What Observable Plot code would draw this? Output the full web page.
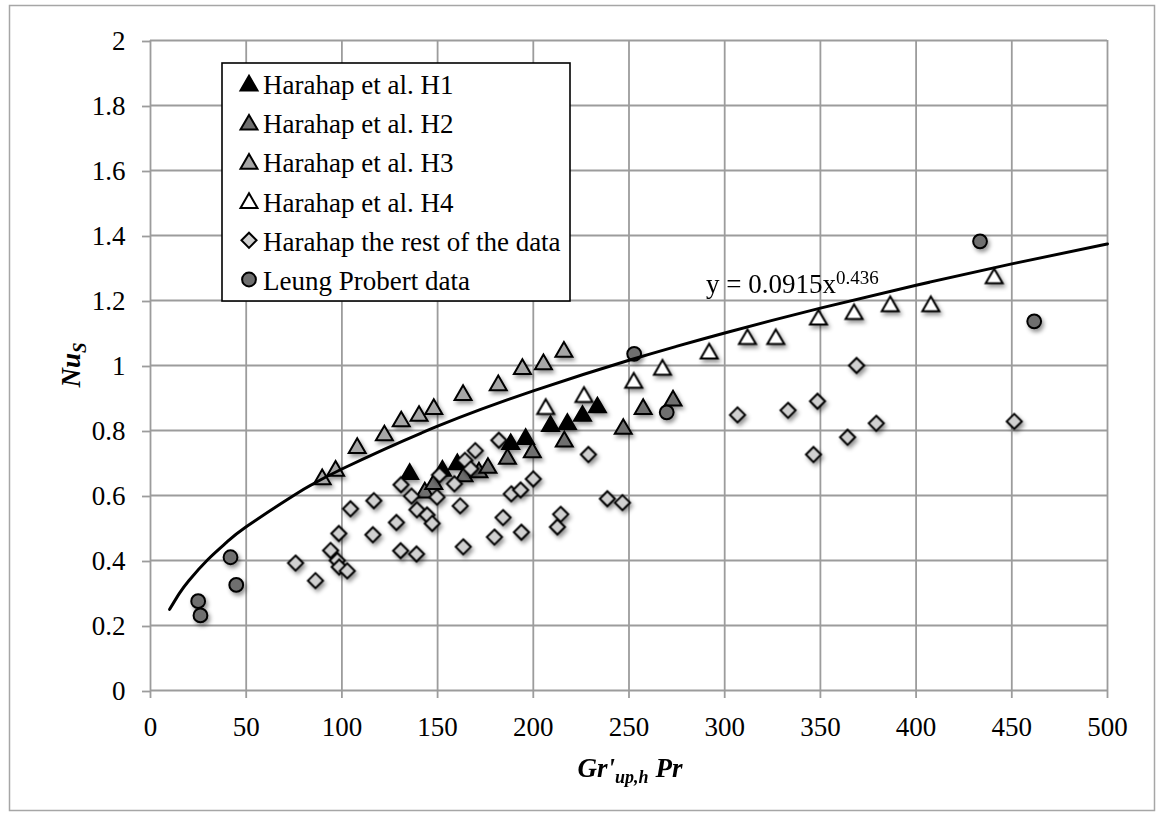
<!DOCTYPE html>
<html>
<head>
<meta charset="utf-8">
<script src="https://cdn.jsdelivr.net/npm/d3@7"></script>
<script src="https://cdn.jsdelivr.net/npm/@observablehq/plot@0.6"></script>
<style>
  html, body { margin: 0; padding: 0; background: #fff; }
  #chart svg { display: block; }
  #chart g[aria-label="dot"] { filter: drop-shadow(2px 3px 2px rgba(0,0,0,0.42)); }
</style>
</head>
<body>
<div id="chart"></div>
<script>
// ---------- data ----------
const xTicks = [0, 50, 100, 150, 200, 250, 300, 350, 400, 450, 500];
const yTicks = [0, 0.2, 0.4, 0.6, 0.8, 1, 1.2, 1.4, 1.6, 1.8, 2];

const seriesNames = [
  "Harahap et al. H1",
  "Harahap et al. H2",
  "Harahap et al. H3",
  "Harahap et al. H4",
  "Harahap the rest of the data",
  "Leung Probert data"
];

const h1X = [135.4, 152.5, 160.3, 188.2, 196.0, 209.0, 217.8, 225.7, 233.5];
const h1Y = [0.672, 0.682, 0.702, 0.764, 0.780, 0.820, 0.826, 0.851, 0.877];

const h2X = [143.3, 148.0, 163.8, 171.6, 176.3, 186.5, 199.5, 216.2, 247.0, 257.4, 273.0];
const h2Y = [0.615, 0.641, 0.665, 0.677, 0.691, 0.719, 0.739, 0.772, 0.811, 0.872, 0.898];

const h3X = [89.7, 96.7, 108.0, 122.2, 131.0, 140.3, 148.0, 163.3, 181.7, 194.3, 205.3, 216.0];
const h3Y = [0.656, 0.682, 0.752, 0.791, 0.834, 0.851, 0.872, 0.915, 0.945, 0.995, 1.010, 1.048];

const h4X = [206.5, 226.5, 252.5, 267.5, 291.9, 311.9, 326.7, 349.0, 367.6, 386.5, 407.7, 440.8];
const h4Y = [0.872, 0.909, 0.953, 0.993, 1.043, 1.087, 1.087, 1.147, 1.164, 1.188, 1.188, 1.274];

const restX = [75.8, 86.2, 94.1, 97.6, 98.6, 102.8, 98.4, 104.5, 116.7, 116.2, 128.5, 130.9,
  130.7, 136.4, 139.2, 144.5, 147.2, 139.0, 151.0, 149.7, 158.8, 164.3, 167.3, 169.7,
  161.8, 163.4, 182.0, 179.7, 184.2, 188.5, 193.4, 200.0, 193.8, 214.3, 212.6, 228.8,
  238.7, 246.6, 306.7, 333.1, 348.5, 346.4, 364.2, 379.2, 368.9, 451.3];
const restY = [0.392, 0.338, 0.431, 0.400, 0.380, 0.368, 0.483, 0.559, 0.584, 0.479, 0.517, 0.633,
  0.430, 0.598, 0.556, 0.540, 0.514, 0.420, 0.663, 0.595, 0.636, 0.708, 0.682, 0.738,
  0.568, 0.442, 0.770, 0.472, 0.532, 0.605, 0.617, 0.651, 0.487, 0.542, 0.503, 0.726,
  0.590, 0.578, 0.848, 0.862, 0.890, 0.726, 0.779, 0.822, 1.000, 0.828];

const leungX = [24.9, 26.1, 41.8, 44.8, 252.7, 269.7, 433.4, 461.7];
const leungY = [0.275, 0.231, 0.410, 0.325, 1.036, 0.856, 1.382, 1.136];

// power trendline y = 0.0915 x^0.436, sampled points of the drawn curve
const trendX = [10, 15, 20, 30, 40, 50, 75, 100, 150, 200, 250, 300, 350, 400, 450, 500];
const trendY = [0.2497, 0.2980, 0.3378, 0.4031, 0.4570, 0.5037, 0.6011, 0.6815, 0.8132, 0.9219,
  1.0161, 1.1001, 1.1766, 1.2471, 1.3128, 1.3740];
const trendLabel = "y = 0.0915x";
const trendExp = "0.436";

// ---------- styles ----------
const FONT = "'Liberation Serif', 'Times New Roman', serif";
const GRID = "#9c9c9c";
const styles = [
  {symbol: "triangle", fill: "#000000", r: 6.3},
  {symbol: "triangle", fill: "#6f6f6f", r: 6.3},
  {symbol: "triangle", fill: "#a6a6a6", r: 6.3},
  {symbol: "triangle", fill: "#ffffff", r: 6.3},
  {symbol: "diamond2", fill: "#d0d0d0", r: 6.8},
  {symbol: "circle", fill: "#6f6f6f", r: 6.9}
];
const xsList = [h1X, h2X, h3X, h4X, restX, leungX];
const ysList = [h1Y, h2Y, h3Y, h4Y, restY, leungY];
const series = seriesNames.map((name, i) => ({
  name, ...styles[i],
  data: xsList[i].map((x, j) => ({x, y: ysList[i][j]}))
}));
const trend = trendX.map((x, i) => ({x, y: trendY[i]}));

const fmt = d3.format("~g");

const chart = Plot.plot({
  width: 1157,
  height: 816,
  marginLeft: 150,
  marginRight: 50,
  marginTop: 40,
  marginBottom: 126,
  style: {fontFamily: FONT, fontSize: "27px", background: "white", color: "black", overflow: "visible"},
  x: {domain: [0, 500]},
  y: {domain: [0, 2]},
  marks: [
    Plot.gridX({ticks: xTicks, stroke: GRID, strokeOpacity: 1, strokeWidth: 1.8}),
    Plot.gridY({ticks: yTicks, stroke: GRID, strokeOpacity: 1, strokeWidth: 1.8}),
    Plot.axisX({ticks: xTicks, tickFormat: fmt, tickSize: 8, tickPadding: 18, stroke: GRID, strokeWidth: 1.8, fill: "black", label: null}),
    Plot.axisY({ticks: yTicks, tickFormat: fmt, tickSize: 8, tickPadding: 17, stroke: GRID, strokeWidth: 1.8, fill: "black", label: null, dy: 1}),
    ...series.map(s => Plot.dot(s.data, {
      x: "x", y: "y", symbol: s.symbol, r: s.r, fill: s.fill,
      stroke: "black", strokeWidth: 2, dy: s.symbol === "triangle" ? 2 : 0
    })),
    Plot.line(trend, {x: "x", y: "y", stroke: "black", strokeWidth: 3, curve: "natural"})
  ]
});

const svg = d3.select(chart);

// outer border
svg.insert("rect", ":first-child")
  .attr("x", 9.5).attr("y", 5.5).attr("width", 1145).attr("height", 805)
  .attr("fill", "white").attr("stroke", "#a6a6a6").attr("stroke-width", 1.5);

// trendline equation
const eq = svg.append("text")
  .attr("x", 706).attr("y", 293).attr("text-anchor", "start")
  .attr("font-family", FONT).attr("font-size", 27).attr("fill", "black");
eq.append("tspan").text(trendLabel);
eq.append("tspan").attr("font-size", 19).attr("dy", -9).text(trendExp);

// x axis title
const xt = svg.append("text")
  .attr("x", 630).attr("y", 777).attr("text-anchor", "middle")
  .attr("font-family", FONT).attr("font-size", 27)
  .attr("font-weight", "bold").attr("font-style", "italic").attr("fill", "black");
xt.append("tspan").text("Gr'");
xt.append("tspan").attr("font-size", 18).attr("dy", 6).text("up,h");
xt.append("tspan").attr("dy", -6).text(" Pr");

// y axis title
const yt = svg.append("text")
  .attr("transform", "translate(80,365) rotate(-90)")
  .attr("text-anchor", "middle")
  .attr("font-family", FONT).attr("font-size", 27)
  .attr("font-weight", "bold").attr("font-style", "italic").attr("fill", "black");
yt.append("tspan").text("Nu");
yt.append("tspan").attr("font-size", 19).attr("dy", 6).text("S");

// legend
const lg = svg.append("g");
lg.append("rect")
  .attr("x", 222).attr("y", 63).attr("width", 348).attr("height", 238)
  .attr("fill", "white").attr("stroke", "black").attr("stroke-width", 1.6);
const symMap = {triangle: d3.symbolTriangle, diamond2: d3.symbolDiamond2, circle: d3.symbolCircle};
series.forEach((s, i) => {
  const cy = 84.5 + i * 39.2;
  const off = s.symbol === "triangle" ? 2 : 0;
  lg.append("path")
    .attr("d", d3.symbol(symMap[s.symbol], Math.PI * s.r * s.r)())
    .attr("transform", `translate(249,${cy - 1 + off})`)
    .attr("fill", s.fill).attr("stroke", "black").attr("stroke-width", 2);
  lg.append("text")
    .attr("x", 263).attr("y", cy + 9.5).attr("text-anchor", "start")
    .attr("font-family", FONT).attr("font-size", 27).attr("fill", "black")
    .text(s.name);
});

document.getElementById("chart").appendChild(chart);
</script>
</body>
</html>
